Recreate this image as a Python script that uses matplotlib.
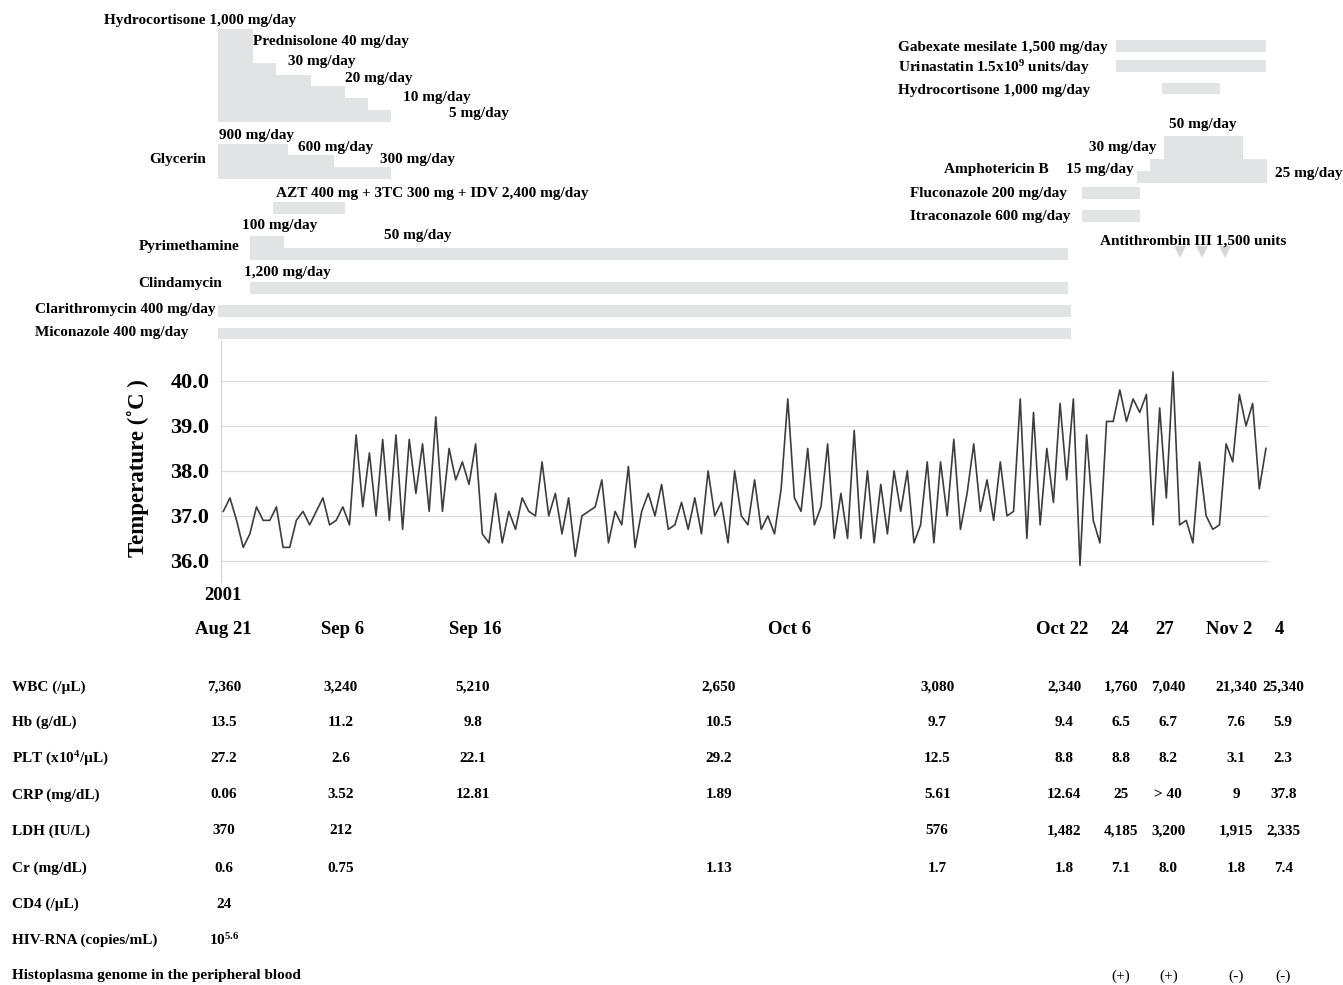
import numpy as np
import matplotlib
matplotlib.use("Agg")
from matplotlib import pyplot as plt

plt.rcParams['font.family'] = ['Liberation Serif', 'DejaVu Serif']
plt.rcParams['font.weight'] = 'bold'
plt.rcParams['mathtext.fontset'] = 'custom'
plt.rcParams['mathtext.rm'] = 'Liberation Serif:bold'
plt.rcParams['mathtext.it'] = 'Liberation Serif:bold'
plt.rcParams['mathtext.bf'] = 'Liberation Serif:bold'

# ---- data ----
# body temperature, about two readings a day, Aug 21 -> Nov 4 2001
temp = [37.1, 37.4, 36.9, 36.3, 36.6, 37.2, 36.9, 36.9, 37.2, 36.3,
        36.3, 36.9, 37.1, 36.8, 37.1, 37.4, 36.8, 36.9, 37.2, 36.8,
        38.8, 37.2, 38.4, 37.0, 38.7, 36.9, 38.8, 36.7, 38.7, 37.5,
        38.6, 37.1, 39.2, 37.1, 38.5, 37.8, 38.2, 37.7, 38.6, 36.6,
        36.4, 37.5, 36.4, 37.1, 36.7, 37.4, 37.1, 37.0, 38.2, 37.0,
        37.5, 36.6, 37.4, 36.1, 37.0, 37.1, 37.2, 37.8, 36.4, 37.1,
        36.8, 38.1, 36.3, 37.1, 37.5, 37.0, 37.7, 36.7, 36.8, 37.3,
        36.7, 37.4, 36.6, 38.0, 37.0, 37.3, 36.4, 38.0, 37.0, 36.8,
        37.8, 36.7, 37.0, 36.6, 37.6, 39.6, 37.4, 37.1, 38.5, 36.8,
        37.2, 38.6, 36.5, 37.5, 36.5, 38.9, 36.5, 38.0, 36.4, 37.7,
        36.6, 38.0, 37.1, 38.0, 36.4, 36.8, 38.2, 36.4, 38.2, 37.0,
        38.7, 36.7, 37.5, 38.6, 37.1, 37.8, 36.9, 38.2, 37.0, 37.1,
        39.6, 36.5, 39.3, 36.8, 38.5, 37.3, 39.5, 37.8, 39.6, 35.9,
        38.8, 36.9, 36.4, 39.1, 39.1, 39.8, 39.1, 39.6, 39.3, 39.7,
        36.8, 39.4, 37.4, 40.2, 36.8, 36.9, 36.4, 38.2, 37.0, 36.7,
        36.8, 38.6, 38.2, 39.7, 39.0, 39.5, 37.6, 38.5]

# drug periods, in units of the temperature reading index
steroid_edges = [-0.8, 4.5, 7.9, 13.2, 18.3, 21.8, 25.2]
glycerin_edges = [-0.8, 9.7, 16.7, 25.2]
azt_period = [7.5, 18.3]
pyrimethamine_edges = [4.0, 9.2, 127.2]
clindamycin_period = [4.0, 127.2]
clarithromycin_period = [-0.8, 127.6]
miconazole_period = [-0.8, 127.6]
gabexate_period = [134.4, 157.0]
urinastatin_period = [134.4, 157.0]
hydrocortisone2_period = [141.4, 150.1]
amphotericin_edges = [137.6, 139.6, 141.6, 153.5, 157.1]
fluconazole_period = [129.3, 138.0]
itraconazole_period = [129.3, 138.0]
antithrombin_days = [144.1, 147.4, 150.9]

# dates on the time axis and lab columns
date_labels = ['Aug 21', 'Sep 6', 'Sep 16', 'Oct 6', 'Oct 22', '24', '27', 'Nov 2', '4']
date_idx = [0, 18.0, 37.9, 85.3, 126.3, 134.9, 141.8, 151.4, 159.1]
lab_idx = [0.1, 17.7, 37.6, 74.6, 107.5, 126.6, 135.2, 142.3, 152.5, 159.6]

lab_names = ['WBC (/µL)', 'Hb (g/dL)', r'PLT (x10$^{\mathrm{4}}$/µL)', 'CRP (mg/dL)',
             'LDH (IU/L)', 'Cr (mg/dL)', 'CD4 (/µL)', 'HIV-RNA (copies/mL)',
             'Histoplasma genome in the peripheral blood']
wbc = ['7,360', '3,240', '5,210', '2,650', '3,080', '2,340', '1,760', '7,040', '21,340', '25,340']
hb = ['13.5', '11.2', '9.8', '10.5', '9.7', '9.4', '6.5', '6.7', '7.6', '5.9']
plt_count = ['27.2', '2.6', '22.1', '29.2', '12.5', '8.8', '8.8', '8.2', '3.1', '2.3']
crp = ['0.06', '3.52', '12.81', '1.89', '5.61', '12.64', '25', '> 40', '9', '37.8']
ldh = ['370', '212', '', '', '576', '1,482', '4,185', '3,200', '1,915', '2,335']
cr = ['0.6', '0.75', '', '1.13', '1.7', '1.8', '7.1', '8.0', '1.8', '7.4']
cd4 = ['24', '', '', '', '', '', '', '', '', '']
hiv_rna = [r'10$^{\mathrm{5.6}}$', '', '', '', '', '', '', '', '', '']
histoplasma = ['', '', '', '', '', '', '(+)', '(+)', '(-)', '(-)']
lab_rows = [wbc, hb, plt_count, crp, ldh, cr, cd4, hiv_rna, histoplasma]

# ---- layout ----
W, H = 1343, 985
X0_PX, STEP_PX = 223.3, 6.641
GRAY = '#e2e3e5'
LINE = '#3d3d3d'


def px2idx(px):
    return (px - X0_PX) / STEP_PX


def rect(x0, y0, x1, y1):
    return [x0 / W, 1 - y1 / H, (x1 - x0) / W, (y1 - y0) / H]


def label(x, y, s, ha='left', size=11, **kw):
    fig.text(x / W, 1 - y / H, s, ha=ha, va='center', fontsize=size, **kw)


def steps(ax, edges, tops, base, color=GRAY):
    ax.bar(edges[:-1], [base - t for t in tops], width=np.diff(edges), bottom=tops,
           align='edge', color=color, linewidth=0)


fig = plt.figure(figsize=(W / 100, H / 100), dpi=100)

# drug panel
ax_top = fig.add_axes(rect(0, 0, W, 340))
ax_top.set_xlim(px2idx(0), px2idx(W))
ax_top.set_ylim(340, 0)
ax_top.axis('off')

steps(ax_top, steroid_edges, [29, 62.7, 75, 86, 98, 110.3], 121.7)
steps(ax_top, glycerin_edges, [144, 155.3, 166.7], 178.7)
steps(ax_top, azt_period, [202.3], 213.7)
steps(ax_top, pyrimethamine_edges, [236, 248.3], 259.7)
steps(ax_top, clindamycin_period, [282.3], 293.7)
steps(ax_top, clarithromycin_period, [305], 316.7)
steps(ax_top, miconazole_period, [328.3], 339.3)
steps(ax_top, gabexate_period, [40], 51.7)
steps(ax_top, urinastatin_period, [60], 71.7)
steps(ax_top, hydrocortisone2_period, [82.7], 94.3)
steps(ax_top, amphotericin_edges, [170.7, 159.3, 136, 159.3], 182.7)
steps(ax_top, fluconazole_period, [187.3], 198.7)
steps(ax_top, itraconazole_period, [210], 221.7)
ax_top.plot(antithrombin_days, [252.5] * len(antithrombin_days), 'v', color='#d6d7d9',
            markersize=8, markeredgewidth=0)

label(296, 20.7, 'Hydrocortisone 1,000 mg/day', ha='right')
label(253, 41.7, 'Prednisolone 40 mg/day')
label(287.5, 62, '30 mg/day')
label(344.8, 78.7, '20 mg/day')
label(402.5, 97.3, '10 mg/day')
label(448.8, 113.3, '5 mg/day')
label(218.7, 136, '900 mg/day')
label(298.5, 147.7, '600 mg/day')
label(379.6, 159.3, '300 mg/day')
label(205.6, 159.3, 'Glycerin', ha='right')
label(276, 193.3, 'AZT 400 mg + 3TC 300 mg + IDV 2,400 mg/day')
label(242, 226, '100 mg/day')
label(383.5, 235.7, '50 mg/day')
label(138.4, 246.7, 'Pyrimethamine')
label(244, 272.3, '1,200 mg/day')
label(138.4, 283.3, 'Clindamycin')
label(34.8, 309, 'Clarithromycin 400 mg/day')
label(34.8, 332.3, 'Miconazole 400 mg/day')
label(898.3, 47.3, 'Gabexate mesilate 1,500 mg/day')
label(898.3, 67.3, r'Urinastatin 1.5x10$^{\mathrm{9}}$ units/day')
label(898.3, 90.7, 'Hydrocortisone 1,000 mg/day')
label(1169.3, 124.3, '50 mg/day')
label(1089, 147.3, '30 mg/day')
label(944.3, 170, 'Amphotericin B')
label(1066, 170, '15 mg/day')
label(1275, 174, '25 mg/day')
label(910, 194, 'Fluconazole 200 mg/day')
label(910, 216.7, 'Itraconazole 600 mg/day')
label(1100, 240.7, 'Antithrombin III 1,500 units')

# temperature panel
ax_t = fig.add_axes(rect(221, 340, 1269, 582))
ax_t.set_xlim(px2idx(221), px2idx(1269))
ax_t.set_ylim(35.53, 40.91)
ax_t.plot(np.arange(len(temp)), temp, color=LINE, linewidth=1.2)
ax_t.set_yticks([36, 37, 38, 39, 40])
ax_t.set_yticklabels(['36.0', '37.0', '38.0', '39.0', '40.0'], fontsize=16)
ax_t.set_xticks([])
ax_t.tick_params(axis='y', length=0, pad=8.5)
ax_t.yaxis.grid(True, color='#dcdcdc', linewidth=0.9)
ax_t.set_axisbelow(True)
for side in ['top', 'right', 'bottom']:
    ax_t.spines[side].set_visible(False)
ax_t.spines['left'].set_color('#d4d4d4')
ax_t.spines['left'].set_linewidth(0.9)
label(138, 468, 'Temperature (˚C )', ha='center', size=16.5, rotation=90)

# dates and lab table
ax_b = fig.add_axes(rect(0, 582, W, H))
ax_b.set_xlim(px2idx(0), px2idx(W))
ax_b.set_ylim(H, 582)
ax_b.axis('off')
ax_b.text(date_idx[0], 596, '2001', ha='center', va='center', fontsize=13.5)
for d, x in zip(date_labels, date_idx):
    ax_b.text(x, 629, d, ha='center', va='center', fontsize=13.5)

row_y = [687, 722, 759, 795, 831, 868, 904, 940, 976]
for name, vals, y in zip(lab_names, lab_rows, row_y):
    label(11.7, y, name)
    for x, v in zip(lab_idx, vals):
        if v:
            w = 'normal' if v in ('(+)', '(-)') else 'bold'
            ax_b.text(x, y, v, ha='center', va='center', fontsize=11, fontweight=w)

fig.savefig('out.png', dpi=100)
